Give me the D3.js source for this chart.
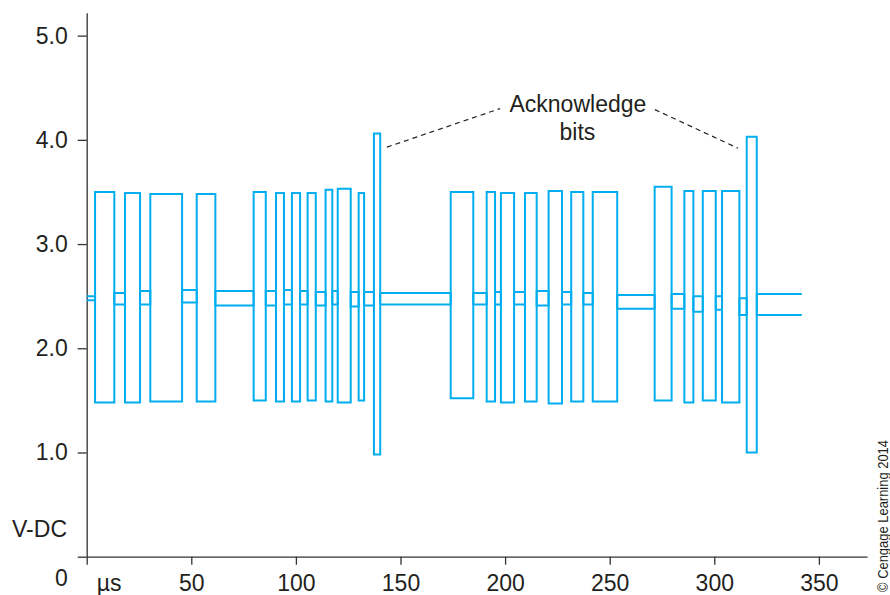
<!DOCTYPE html>
<html>
<head>
<meta charset="utf-8">
<script src="https://cdn.jsdelivr.net/npm/d3@7"></script>
<style>
  html, body { margin: 0; padding: 0; background: #fff; }
  svg { display: block; }
  text { font-family: "Liberation Sans", Arial, Helvetica, sans-serif; fill: #231f20; }
</style>
</head>
<body>
<svg id="chart" width="890" height="595"></svg>
<script>
// ---- Data ----
// Dominant pulses: start/end time (µs)
const pulseStart = [4.0, 18.3, 30.4, 52.6, 79.8, 90.5, 98.1, 105.6, 114.2, 120.0, 130.0, 137.3,
                    174.0, 191.2, 198.0, 209.5, 220.8, 231.6, 241.9, 271.5, 285.7, 294.5, 303.7, 315.5];
const pulseEnd   = [13.2, 25.5, 45.6, 61.5, 85.6, 94.3, 102.0, 109.5, 117.4, 126.2, 132.6, 140.3,
                    184.8, 195.2, 204.3, 215.1, 227.2, 237.4, 253.6, 279.6, 290.0, 300.7, 312.0, 320.3];
// CAN-H dominant level and CAN-L dominant level (V)
const highTop    = [3.50, 3.49, 3.48, 3.48, 3.50, 3.49, 3.49, 3.49, 3.52, 3.53, 3.49, 4.06,
                    3.50, 3.50, 3.49, 3.49, 3.51, 3.50, 3.50, 3.55, 3.51, 3.51, 3.51, 4.03];
const lowBottom  = [1.48, 1.48, 1.49, 1.49, 1.50, 1.49, 1.49, 1.50, 1.49, 1.48, 1.50, 0.98,
                    1.52, 1.49, 1.48, 1.49, 1.47, 1.49, 1.49, 1.50, 1.48, 1.50, 1.48, 1.00];
// Recessive levels in each gap (before first pulse, between pulses, after last pulse)
const recessiveL = [2.50, 2.53, 2.55, 2.56, 2.55, 2.55, 2.56, 2.55, 2.54, 2.55, 2.54, 2.54, 2.53,
                    2.53, 2.54, 2.54, 2.55, 2.54, 2.53, 2.51, 2.52, 2.50, 2.50, 2.48, 2.52];
const recessiveH = [2.46, 2.42, 2.42, 2.44, 2.41, 2.41, 2.42, 2.42, 2.41, 2.42, 2.40, 2.41, 2.42,
                    2.42, 2.42, 2.42, 2.41, 2.42, 2.42, 2.38, 2.38, 2.35, 2.37, 2.32, 2.32];
const traceStart = 0;
const traceEnd = 341.8;

const xTicks = [0, 50, 100, 150, 200, 250, 300, 350];
const yTicks = [0, 1, 2, 3, 4, 5];
const xUnitLabel = "\u00b5s";
const yUnitLabel = "V-DC";
const annotationLines = ["Acknowledge", "bits"];
const copyright = "\u00a9 Cengage Learning 2014";

// ---- Build traces ----
function buildTrace(rec, dom) {
  const pts = [];
  for (let i = 0; i <= pulseStart.length; i++) {
    const g0 = i === 0 ? traceStart : pulseEnd[i - 1];
    const g1 = i === pulseStart.length ? traceEnd : pulseStart[i];
    pts.push([g0, rec[i]], [g1, rec[i]]);
    if (i < pulseStart.length) {
      pts.push([pulseStart[i], dom[i]], [pulseEnd[i], dom[i]]);
    }
  }
  return pts;
}
const canH = buildTrace(recessiveH, highTop);
const canL = buildTrace(recessiveL, lowBottom);

// ---- Scales ----
const svg = d3.select("#chart");
const x = d3.scaleLinear().domain([0, 373]).range([86.7, 867]);
const y = d3.scaleLinear().domain([0, 5.22]).range([556.7, 12.7]);

const axisColor = "#333";
const fs = "23px";

// X axis
const gx = svg.append("g").attr("transform", `translate(0,${y(0)})`)
  .call(d3.axisBottom(x).tickValues(xTicks).tickSize(8).tickPadding(10).tickSizeOuter(0)
    .tickFormat(d => d === 0 ? xUnitLabel : d));
gx.selectAll("text").style("font-size", fs).attr("fill", "#231f20")
  .attr("dx", d => d === 0 ? "22px" : 0);

// Y axis
const gy = svg.append("g").attr("transform", `translate(${x(0)},0)`)
  .call(d3.axisLeft(y).tickValues(yTicks).tickSize(9).tickPadding(10).tickSizeOuter(0)
    .tickFormat(d => d === 0 ? "0" : d3.format(".1f")(d)));
gy.selectAll("text").style("font-size", fs).attr("fill", "#231f20")
  .attr("dy", d => d === 0 ? "1.25em" : "0.32em");

svg.selectAll(".domain, .tick line").attr("stroke", axisColor).attr("stroke-width", 1.3);

// Unit label on y axis
svg.append("text").attr("x", 67).attr("y", 537).attr("text-anchor", "end")
  .style("font-size", fs).text(yUnitLabel);

// Traces
const line = d3.line().x(d => x(d[0])).y(d => y(d[1]));
const traceColor = "#00aeef";
[canL, canH].forEach(tr => {
  svg.append("path").datum(tr).attr("d", line)
    .attr("fill", "none").attr("stroke", traceColor)
    .attr("stroke-width", 2).attr("stroke-linejoin", "miter");
});

// Annotation
const ann = svg.append("g");
ann.append("text").attr("x", x(234.8)).attr("y", y(4.27)).attr("text-anchor", "middle")
  .style("font-size", fs).text(annotationLines[0]);
ann.append("text").attr("x", x(234.6)).attr("y", y(4.00)).attr("text-anchor", "middle")
  .style("font-size", fs).text(annotationLines[1]);
const leaders = [
  [[143.5, 3.93], [197.6, 4.30]],
  [[271.6, 4.29], [311.3, 3.92]]
];
leaders.forEach(l => {
  ann.append("line")
    .attr("x1", x(l[0][0])).attr("y1", y(l[0][1]))
    .attr("x2", x(l[1][0])).attr("y2", y(l[1][1]))
    .attr("stroke", "#231f20").attr("stroke-width", 1.2).attr("stroke-dasharray", "5,4");
});

// Copyright
svg.append("text")
  .attr("transform", "translate(888,592) rotate(-90)")
  .attr("text-anchor", "start")
  .attr("textLength", 152).attr("lengthAdjust", "spacingAndGlyphs")
  .style("font-size", "15px").text(copyright);
</script>
</body>
</html>
